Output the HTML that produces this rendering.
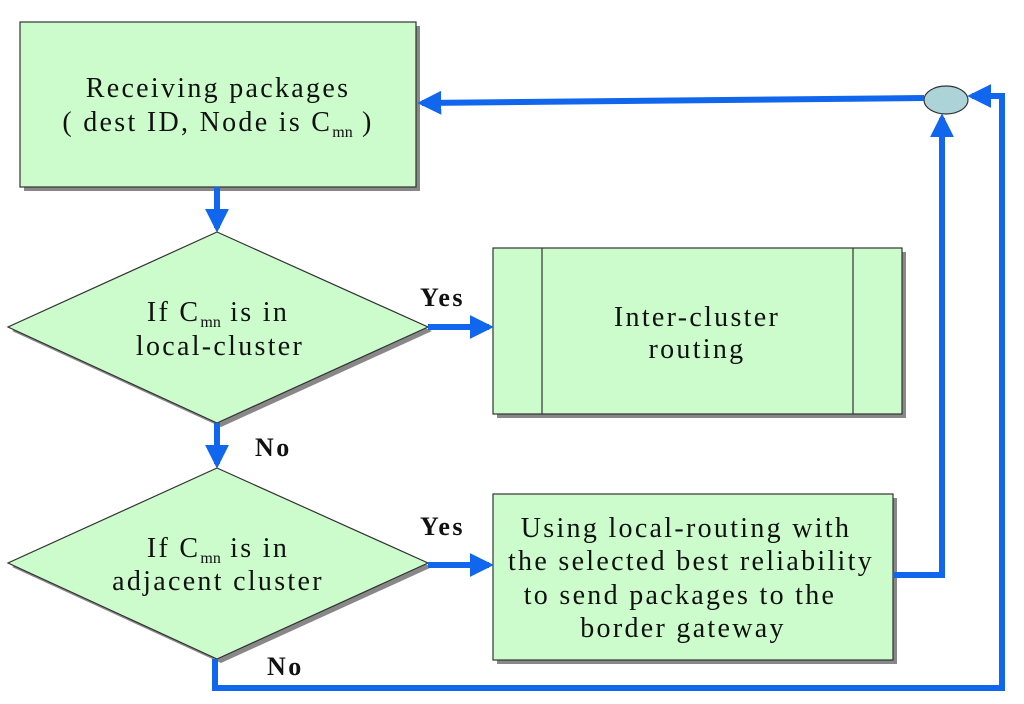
<!DOCTYPE html>
<html><head><meta charset="utf-8"><style>
body{margin:0;background:#fff}
svg{display:block}
text{font-family:"Liberation Serif",serif;fill:#111}
</style></head><body>
<svg width="1024" height="704" viewBox="0 0 1024 704" xmlns="http://www.w3.org/2000/svg">
<defs><marker id="a" markerWidth="4" markerHeight="4" refX="3.2" refY="2" orient="auto" markerUnits="strokeWidth"><path d="M0,0 L4,2 L0,4 z" fill="#1166ee"/></marker></defs>
<g fill="#888"><rect x="24" y="26" width="396" height="165"/><rect x="497" y="252" width="409" height="166"/><rect x="497" y="498" width="400" height="166"/>
<polygon points="221,236 432,331 221,427 12,331"/><polygon points="221,472 432,567 221,663 12,567"/></g>
<g fill="#ccfccc" stroke="#333" stroke-width="1.2">
<rect x="20" y="22" width="396" height="165"/>
<polygon points="217,232 428,327 217,423 8,327"/>
<polygon points="217,468 428,563 217,659 8,563"/>
<rect x="493" y="248" width="409" height="166"/>
<line x1="542" y1="248" x2="542" y2="414"/><line x1="853" y1="248" x2="853" y2="414"/>
<rect x="493" y="494" width="400" height="166"/>
</g>
<ellipse cx="946" cy="100" rx="22" ry="14" fill="#acd4d8" stroke="#333" stroke-width="1.2"/>
<g stroke="#1166ee" stroke-width="6" fill="none">
<line x1="217" y1="187" x2="217" y2="228" marker-end="url(#a)"/>
<line x1="217" y1="423" x2="217" y2="464" marker-end="url(#a)"/>
<line x1="428" y1="327" x2="489" y2="327" marker-end="url(#a)"/>
<line x1="428" y1="565" x2="489" y2="565" marker-end="url(#a)"/>
<line x1="924" y1="98" x2="422" y2="103" marker-end="url(#a)"/>
<polyline points="893,575 942,575 942,118" marker-end="url(#a)"/>
<polyline points="215,659 215,688 1002,688 1002,96 972,96" marker-end="url(#a)"/>
</g>
<g font-size="28" text-anchor="middle" letter-spacing="2.3">
<text x="218" y="97">Receiving packages</text>
<text x="218" y="131">( dest ID, Node is C<tspan font-size="16" dy="6" letter-spacing="0">mn</tspan><tspan dy="-6"> )</tspan></text>
<text x="218" y="321">If C<tspan font-size="16" dy="6" letter-spacing="0">mn</tspan><tspan dy="-6"> is in</tspan></text>
<text x="220" y="355">local-cluster</text>
<text x="218" y="557">If C<tspan font-size="16" dy="6" letter-spacing="0">mn</tspan><tspan dy="-6"> is in</tspan></text>
<text x="218" y="590">adjacent cluster</text>
<text x="697" y="326">Inter-cluster</text>
<text x="697" y="358">routing</text>
<text x="686" y="537">Using local-routing with</text>
<text x="691" y="570">the selected best reliability</text>
<text x="680" y="604">to send packages to the</text>
<text x="683" y="637">border gateway</text>
</g>
<g font-size="26" font-weight="bold" letter-spacing="2.5">
<text x="420" y="306">Yes</text>
<text x="420" y="535">Yes</text>
<text x="255" y="456">No</text>
<text x="267" y="675">No</text>
</g>
</svg>
</body></html>
